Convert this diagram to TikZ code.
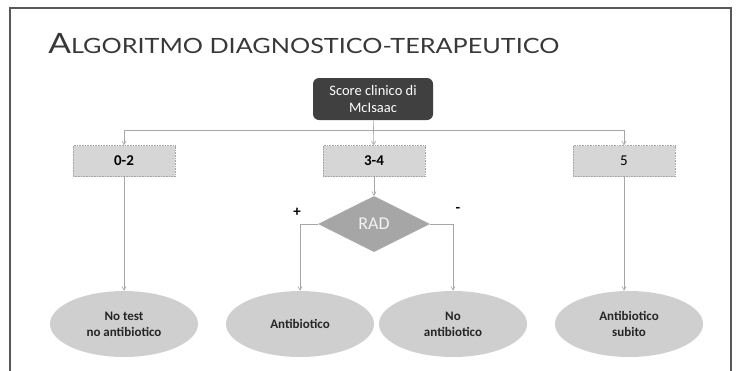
\documentclass[tikz,border=0pt]{standalone}
\usepackage{fontspec}
\setmainfont{Carlito}
\newfontfamily\titlefont{Lato}
\usetikzlibrary{arrows, shapes.geometric}

\definecolor{framegray}{HTML}{585858}
\definecolor{linegray}{HTML}{A6A6A6}
\definecolor{scoregray}{HTML}{404040}

\begin{document}
\begin{tikzpicture}[> = angle 60, % open arrow head
                x = 1pt, y = -1pt, % pixel grid, y downwards
                node distance = 250pt, % distance between the score boxes
                semithick % line style
            ]

            \tikzstyle{every node}=[inner sep = 0pt, align = center]
            \tikzstyle{scorebox}=[rectangle, rounded corners = 6pt, fill = scoregray,
            text = white, minimum width = 120pt, minimum height = 42pt,
            font = \fontsize{14.5}{17}\selectfont]
            \tikzstyle{rangebox}=[rectangle, fill = black!16, draw = black!35,
            densely dotted, minimum width = 102pt, minimum height = 31pt,
            font = \fontsize{15}{17}\selectfont]
            \tikzstyle{test}=[diamond, aspect = 2, fill = black!35, text = black!5,
            minimum width = 112pt, minimum height = 56pt,
            font = \fontsize{18}{20}\selectfont]
            \tikzstyle{result}=[ellipse, fill = black!19, text = black!85,
            minimum width = 148pt, minimum height = 66pt,
            font = \bfseries\fontsize{13}{16}\selectfont]
            \tikzstyle{sign}=[font = \bfseries\fontsize{15}{15}\selectfont]

            \useasboundingbox (0,0) rectangle (738,370);
            \draw[framegray, line width = 2pt] (10,380) -- (10,8) -- (731,8) -- (731,380);

            \node (title) [anchor = base west, text = black!78] at (48,53)
            {\titlefont\scalebox{1.2}[1]{\fontsize{28}{28}\selectfont A\fontsize{21}{21}\selectfont LGORITMO DIAGNOSTICO-TERAPEUTICO}};

            \node (score) [scorebox] at (373,99) {Score clinico di\\McIsaac};
            \node (mid) [rangebox] at (374,161) {\bfseries 3-4};
            \node (low) [rangebox, left of=mid] {\bfseries 0-2};
            \node (high) [rangebox, right of=mid] {5};
            \node (rad) [test, below of=mid, node distance = 63pt] {RAD};
            \node (plus) [sign] at (297,212) {+};
            \node (minus) [sign] at (458,210) {-};

            \node (notest) [result] at (124,324) {No test\\no antibiotico};
            \node (abpos) [result] at (300,324) {Antibiotico};
            \node (noab) [result] at (453,324) {No\\antibiotico};
            \node (abnow) [result] at (629,324) {Antibiotico\\subito};

            \coordinate (split) at (374,130);

            \begin{scope}[draw = linegray]
            \path[->] (score) edge (mid); \path[->] (mid) edge (rad);
            \draw[->] (split) -| (low); \draw[->] (split) -| (high);
            \path[->] (low) edge (notest);
            \draw[->] (rad.west) -| (abpos); \draw[->] (rad.east) -| (noab);
            \draw[->] (high) -- (high |- abnow.north);
            \end{scope}
        \end{tikzpicture}
\end{document}
